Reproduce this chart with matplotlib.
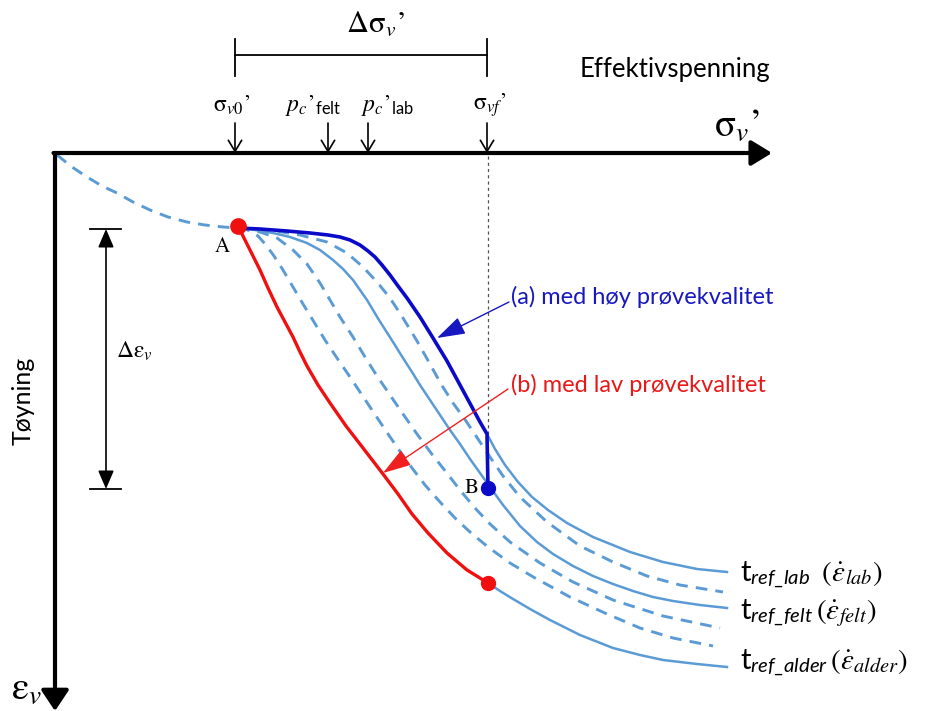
import numpy as np
import matplotlib
matplotlib.use("Agg")
import matplotlib.pyplot as plt

plt.rcParams['font.family'] = ['Lato', 'DejaVu Sans']
plt.rcParams['mathtext.fontset'] = 'custom'
plt.rcParams['mathtext.rm'] = 'STIXGeneral'
plt.rcParams['mathtext.it'] = 'STIXGeneral:italic'
plt.rcParams['mathtext.bf'] = 'STIXGeneral:bold'
plt.rcParams['mathtext.sf'] = 'Lato:italic'
plt.rcParams['mathtext.fallback'] = 'stix'

# ---------------- data (schematic coordinates: x = stress, y = strain downward) -------------
pre_x = [57, 72, 87, 102, 117, 133, 150, 168, 187, 205, 223, 238]
pre_y = [155, 167, 177, 186, 193, 202, 210, 217, 222, 225, 227, 228]

blue_x = [238, 260, 287, 310, 328, 340, 350, 360, 368, 375, 382, 390, 398, 407, 420, 433,
          447, 460, 473, 480, 487, 488]
blue_y = [228, 229, 231, 233, 235, 237, 240, 245, 251, 257, 265, 275, 286, 298, 317, 338,
          361, 385, 409, 422, 434, 488]

red_x = [238, 245, 250, 260, 268, 277, 285, 293, 300, 307, 318, 330, 346, 363, 383, 398,
         412, 428, 447, 467, 488]
red_y = [226, 240, 250, 270, 288, 307, 322, 337, 352, 366, 385, 403, 426, 448, 474, 494,
         514, 533, 553, 570, 583]

s1_x = [487, 495, 505, 518, 532, 548, 567, 593, 630, 663, 697, 727]
s1_y = [434, 449, 465, 482, 497, 510, 523, 537, 552, 562, 569, 572]

d1_x = [238, 270, 300, 327, 347, 363, 377, 390, 403, 417, 430, 441, 453, 466, 478, 490,
        503, 520, 547, 580, 613, 647, 680, 723]
d1_y = [228, 230, 235, 242, 253, 267, 282, 298, 318, 341, 364, 384, 403, 421, 439, 457,
        476, 497, 522, 546, 562, 576, 585, 592]

s2_x = [238, 255, 273, 290, 307, 320, 333, 343, 353, 360, 367, 373, 379, 386, 393, 403,
        412, 420, 430, 440, 450, 460, 470, 480, 490, 503, 520, 537, 553, 573, 593, 613,
        633, 653, 673, 700, 727]
s2_y = [228, 230, 233, 237, 243, 250, 260, 269, 280, 290, 300, 310, 320, 331, 342, 358,
        372, 385, 400, 415, 430, 444, 459, 473, 487, 505, 526, 542, 554, 566, 576, 584,
        591, 597, 601, 605, 608]

d2_x = [238, 260, 277, 293, 307, 320, 330, 340, 353, 365, 377, 390, 403, 417, 431, 446,
        460, 474, 490, 510, 540, 573, 613, 663, 720]
d2_y = [228, 232, 238, 250, 264, 283, 300, 317, 337, 357, 376, 395, 414, 434, 453, 472,
        490, 507, 524, 542, 563, 582, 600, 616, 628]

d3_x = [238, 248, 258, 266, 274, 283, 293, 303, 314, 325, 337, 350, 362, 374, 386, 399,
        412, 425, 440, 455, 470, 488, 510, 535, 570, 607, 640, 673, 713]
d3_y = [228, 230, 236, 245, 256, 270, 287, 304, 322, 340, 358, 377, 395, 413, 431, 450,
        468, 485, 502, 518, 532, 547, 563, 578, 597, 614, 628, 638, 646]

s3_x = [488, 500, 513, 530, 550, 580, 613, 640, 663, 697, 727]
s3_y = [583, 591, 599, 609, 620, 635, 648, 655, 660, 664, 667]

point_A = (238, 226)
point_B = (488, 488)
point_C = (488, 583)

stress_ticks_x = [235, 328, 368, 487]
stress_tick_labels = [r"$\mathrm{σ}_{v0}\mathrm{’}$",
                      r"$p_{c}\mathrm{’}_{\mathregular{felt}}$",
                      r"$p_{c}\mathrm{’}_{\mathregular{lab}}$",
                      r"$\mathrm{σ}_{vf}\mathrm{’}$"]
stress_label_x = [232, 313, 387, 490]

curve_labels = [r"$\mathregular{t}_{\mathsf{ref\_lab}}\;\;(\dot{\varepsilon}_{lab})$",
                r"$\mathregular{t}_{\mathsf{ref\_felt}}\,(\dot{\varepsilon}_{felt})$",
                r"$\mathregular{t}_{\mathsf{ref\_alder}}\,(\dot{\varepsilon}_{alder})$"]
curve_label_y = [575, 613, 663]

# ---------------- figure ----------------
fig = plt.figure(figsize=(9.36, 7.11), dpi=100)
ax = fig.add_axes([0, 0, 1, 1])
ax.set_xlim(0, 936)
ax.set_ylim(711, 0)
ax.axis('off')

LB = '#5B9BD5'
DB = '#0A0AC8'
RD = '#F01010'
dash = (0, (4.0, 2.8))

# axes
ax.annotate('', xy=(772, 153), xytext=(53.5, 153),
            arrowprops=dict(arrowstyle='-|>,head_length=0.9,head_width=0.55', lw=3.0,
                            color='k', shrinkA=0, shrinkB=0, mutation_scale=14))
ax.annotate('', xy=(55, 711), xytext=(55, 153),
            arrowprops=dict(arrowstyle='-|>,head_length=0.9,head_width=0.6', lw=3.0,
                            color='k', shrinkA=0, shrinkB=0, mutation_scale=14))

# dotted vertical line
ax.plot([488, 488], [156, 434], color='#555555', lw=0.9, ls=(0, (2.5, 2.5)), zorder=1)

# curves
ax.plot(pre_x, pre_y, color=LB, lw=2.1, ls=dash, zorder=2)
ax.plot(d3_x, d3_y, color=LB, lw=2.1, ls=dash, zorder=2)
ax.plot(d2_x, d2_y, color=LB, lw=2.1, ls=dash, zorder=2)
ax.plot(d1_x, d1_y, color=LB, lw=2.1, ls=dash, zorder=2)
ax.plot(s2_x, s2_y, color=LB, lw=1.8, zorder=2)
ax.plot(s1_x, s1_y, color=LB, lw=1.8, zorder=2)
ax.plot(s3_x, s3_y, color=LB, lw=1.8, zorder=2)
ax.plot(red_x, red_y, color=RD, lw=2.4, zorder=3, solid_capstyle='round',
        solid_joinstyle='round')
ax.plot(blue_x, blue_y, color=DB, lw=2.6, zorder=3, solid_capstyle='round',
        solid_joinstyle='round')

ax.plot(*point_A, 'o', color=RD, ms=11, zorder=5)
ax.plot(*point_C, 'o', color=RD, ms=10, zorder=5)
ax.plot(*point_B, 'o', color=DB, ms=10, zorder=5)

ax.text(222, 247, 'A', fontsize=15, family='STIXGeneral', ha='center', va='center')
ax.text(472, 488, 'B', fontsize=15, family='STIXGeneral', ha='center', va='center')

# stress markers at top
for x in stress_ticks_x:
    ax.annotate('', xy=(x, 153), xytext=(x, 123),
                arrowprops=dict(arrowstyle='->,head_length=0.5,head_width=0.3', lw=1.2,
                                color='k', shrinkA=0, shrinkB=0, mutation_scale=16))
for x, lab in zip(stress_label_x, stress_tick_labels):
    ax.text(x, 105, lab, fontsize=17, ha='center', va='center')

# delta sigma bracket
ax.plot([235, 487], [55, 55], color='k', lw=1.3)
ax.plot([235, 235], [39, 76], color='k', lw=1.3)
ax.plot([487, 487], [39, 76], color='k', lw=1.3)
ax.text(375, 24, r"$\Delta\mathrm{σ}_{v}\mathrm{’}$", fontsize=22, ha='center', va='center')

ax.text(675, 69, 'Effektivspenning', fontsize=18.5, ha='center', va='center')
ax.text(737, 125, r"$\mathrm{σ}_{v}\mathrm{’}$", fontsize=28, ha='center', va='center')

# delta epsilon bracket
ax.plot([90, 121], [229, 229], color='k', lw=1.3)
ax.plot([90, 121], [489, 489], color='k', lw=1.3)
ax.annotate('', xy=(106, 229), xytext=(106, 489),
            arrowprops=dict(arrowstyle='<|-|>,head_length=0.7,head_width=0.3', lw=1.2,
                            color='k', shrinkA=0, shrinkB=0, mutation_scale=16))
ax.text(116, 351, r"$\Delta\mathrm{ε}_{v}$", fontsize=17, ha='left', va='center')

ax.text(23, 401, 'Tøyning', fontsize=18, rotation=90, ha='center', va='center')
ax.text(27, 688, r"$\mathrm{ε}_{v}$", fontsize=28, ha='center', va='center')

# annotations
ax.text(511, 297, '(a) med høy prøvekvalitet', fontsize=17, color='#1818C0',
        ha='left', va='center')
ax.annotate('', xy=(437, 338), xytext=(509, 302),
            arrowprops=dict(arrowstyle='-|>,head_length=1.1,head_width=0.35', lw=1.0,
                            color='#1818C0', shrinkA=0, shrinkB=0, mutation_scale=16))
ax.text(511, 385, '(b) med lav prøvekvalitet', fontsize=17, color='#E81818',
        ha='left', va='center')
ax.annotate('', xy=(383, 473), xytext=(508, 389),
            arrowprops=dict(arrowstyle='-|>,head_length=1.1,head_width=0.35', lw=1.0,
                            color='#F02020', shrinkA=0, shrinkB=0, mutation_scale=16))

for y, lab in zip(curve_label_y, curve_labels):
    ax.text(740, y, lab, fontsize=21, ha='left', va='center')

fig.savefig('out.png', dpi=100)
